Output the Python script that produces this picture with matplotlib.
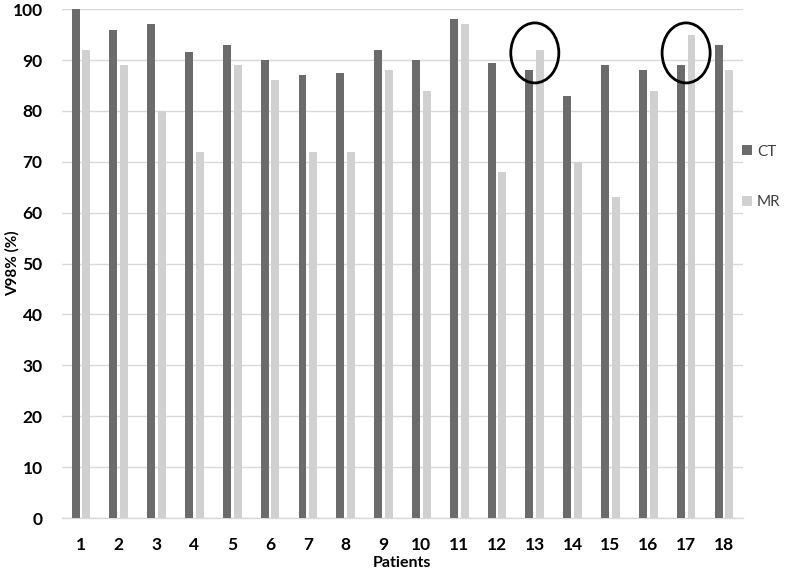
import matplotlib
matplotlib.use("Agg")
import matplotlib.pyplot as plt
from matplotlib.patches import Ellipse
import numpy as np

plt.rcParams['font.family'] = ['Lato', 'DejaVu Sans']

patients = [str(i) for i in range(1, 19)]
ct = [100, 96, 97, 91.5, 93, 90, 87, 87.5, 92, 90, 98, 89.5, 88, 83, 89, 88, 89, 93]
mr = [92, 89, 80, 72, 89, 86, 72, 72, 88, 84, 97, 68, 92, 70, 63, 84, 95, 88]
yticks = list(range(0, 101, 10))
highlighted = ['13', '17']

fig = plt.figure(figsize=(7.88, 5.72), dpi=100)
ax = fig.add_axes([0.0787, 0.0944, 0.864, 0.8896])

x = np.arange(len(patients))
w = 0.21
off = 0.142
ax.bar(x - off, ct, width=w, color='#6b6b6b', label='CT', zorder=3)
ax.bar(x + off, mr, width=w, color='#d0d0d0', label='MR', zorder=3)

ax.set_xlim(-0.5, len(patients) - 0.5)
ax.set_ylim(0, 100)
ax.set_yticks(yticks)
ax.set_yticklabels([str(v) for v in yticks], fontsize=12.5, fontweight='bold')
ax.set_xticks(x)
ax.set_xticklabels(patients, fontsize=12.5, fontweight='bold')
ax.tick_params(axis='both', length=0)
ax.tick_params(axis='x', pad=14)
ax.tick_params(axis='y', pad=14)
ax.grid(axis='y', color='#d9d9d9', linewidth=1, zorder=0)
for s in ['top', 'right', 'left']:
    ax.spines[s].set_visible(False)
ax.spines['bottom'].set_color('#d9d9d9')
ax.spines['bottom'].set_linewidth(1)

ax.set_ylabel('V98% (%)', fontsize=11, fontweight='bold')
ax.yaxis.set_label_coords(-0.062, 0.5)
ax.set_xlabel('Patients', fontsize=11.5, fontweight='bold')
ax.xaxis.set_label_coords(0.5, -0.075)

for p in highlighted:
    i = patients.index(p)
    e = Ellipse((i, 91.4), width=1.27, height=11.8, fill=False,
                edgecolor='black', linewidth=2, zorder=5, clip_on=False)
    ax.add_patch(e)

leg = ax.legend(loc='upper left', bbox_to_anchor=(0.995, 0.74), frameon=False,
                fontsize=11, labelspacing=2.4, handlelength=0.6, handleheight=0.6,
                handletextpad=0.35, borderaxespad=0.0, borderpad=0.2)
for t in leg.get_texts():
    t.set_color('#404040')

fig.savefig('out.png', dpi=100)
